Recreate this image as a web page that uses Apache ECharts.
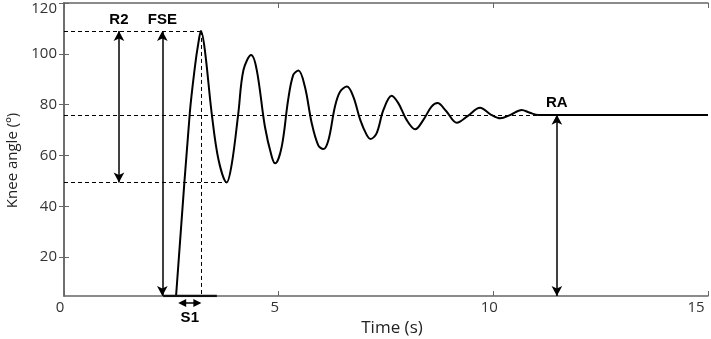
<!DOCTYPE html>
<html>
<head>
<meta charset="utf-8">
<script src="https://cdn.jsdelivr.net/npm/echarts@6/dist/echarts.min.js"></script>
<style>
  html, body { margin: 0; padding: 0; background: #fff; }
  #chart { width: 711px; height: 339px; }
</style>
</head>
<body>
<div id="chart"></div>
<script>
// knee angle trace (time s, angle deg)
const timeS = [2.61, 2.93, 3.05, 3.13, 3.19, 3.28, 3.44, 3.6, 3.79, 3.91, 4.06, 4.18, 4.36, 4.49, 4.68, 4.84, 4.92,
  5.07, 5.22, 5.34, 5.46, 5.61, 5.77, 5.92, 6.04, 6.16, 6.31, 6.43, 6.59, 6.74, 6.9, 7.05, 7.14, 7.28, 7.44, 7.63,
  7.79, 7.98, 8.18, 8.37, 8.56, 8.7, 8.9, 9.15, 9.4, 9.69, 9.95, 10.16, 10.4, 10.66, 10.85, 11.05, 15]
const kneeAngle = [4.7, 76.7, 95, 104.3, 109, 101.6, 76.6, 58.2, 49.4, 56.9, 76.6, 93.6, 99.5, 93.6, 71.3, 59.5, 56.9,
  63.4, 81.8, 91.7, 93.4, 87.1, 72.7, 64.1, 62.5, 66.1, 79.2, 85.1, 87.1, 83.1, 74, 68.1, 66.5, 68.7, 77.9, 83.5,
  80.5, 74, 70.3, 74, 79.2, 80.6, 77.5, 72.9, 75.5, 78.8, 76, 74.6, 76, 77.9, 76.8, 75.9, 75.9]
// flat part of the trace lying on the lower edge
const baseTime = [2.31, 3.56]

const yTicks = [20, 40, 60, 80, 100, 120]
const yMin = 4.7
const yMax = 120

// reference levels
const peakAngle = 109 // FSE
const troughAngle = 49.4 // R2 bottom
const restAngle = 76 // RA
const peakTime = 3.19
const troughTime = 3.79
const settleTime = 11.05
const fseTime = 2.29
const r2Time = 1.28
const raTime = 11.48
const s1Start = 2.66
const s1End = 3.2

const chart = echarts.init(document.getElementById('chart'))

const dashed = { color: '#000', width: 1, type: [4, 3] }
const arrowStyle = { color: '#000', width: 1.5, type: 'solid' }
const tagFont = { fontFamily: 'Liberation Sans', fontWeight: 'bold', fontSize: 15, fill: '#000' }
const labelFont = { fontFamily: 'Open Sans', fontSize: 15, color: '#333' }

const option = {
  animation: false,
  grid: { left: 64, right: 3, top: 3, bottom: 43, containLabel: false, outerBoundsMode: 'none' },
  xAxis: [
    {
      type: 'value',
      min: 0,
      max: 15,
      interval: 5,
      name: 'Time (s)',
      nameLocation: 'middle',
      nameGap: 17,
      nameTextStyle: { fontFamily: 'Open Sans', fontSize: 17, color: '#222', padding: [0, 0, 0, 12] },
      axisLine: { lineStyle: { color: '#666', width: 1.5 } },
      axisTick: { inside: true, length: 5, lineStyle: { color: '#666' } },
      axisLabel: Object.assign({
        margin: 4,
        hideOverlap: false,
        padding: [0, 8, 0, 0],
        formatter: (v) => (v === 15 ? '{r|15}' : String(v)),
        rich: { r: Object.assign({ padding: [0, 16, 0, 0] }, labelFont) }
      }, labelFont),
      splitLine: { show: false }
    },
    {
      type: 'value',
      position: 'top',
      min: 0,
      max: 15,
      interval: 5,
      axisLine: { show: true, lineStyle: { color: '#666', width: 1.5 } },
      axisTick: { show: true, inside: true, length: 5, lineStyle: { color: '#666' } },
      axisLabel: { show: false },
      splitLine: { show: false }
    }
  ],
  yAxis: [
    {
      type: 'value',
      min: yMin,
      max: yMax,
      name: 'Knee angle (º)',
      nameLocation: 'middle',
      nameGap: 44,
      nameTextStyle: { fontFamily: 'Open Sans', fontSize: 15, color: '#222', padding: [0, 22, 0, 0] },
      axisLine: { show: true, lineStyle: { color: '#666', width: 1.5 } },
      axisTick: { show: true, inside: true, length: 5, customValues: yTicks, lineStyle: { color: '#666' } },
      axisLabel: Object.assign({
        margin: 7,
        customValues: yTicks,
        formatter: (v) => (v === 120 ? '{t|120}' : String(v)),
        rich: { t: Object.assign({ padding: [12, 0, 0, 0] }, labelFont) }
      }, labelFont),
      splitLine: { show: false }
    },
    {
      type: 'value',
      position: 'right',
      min: yMin,
      max: yMax,
      axisLine: { show: true, lineStyle: { color: '#666', width: 1.5 } },
      axisTick: { show: true, inside: true, length: 5, customValues: yTicks, lineStyle: { color: '#666' } },
      axisLabel: { show: false },
      splitLine: { show: false }
    }
  ],
  series: [
    {
      type: 'line',
      name: 'knee',
      data: timeS.map((t, i) => [t, kneeAngle[i]]),
      smooth: 0.35,
      showSymbol: false,
      lineStyle: { color: '#000', width: 2 },
      z: 5
    },
    {
      type: 'line',
      name: 'base',
      data: baseTime.map((t) => [t, yMin]),
      showSymbol: false,
      lineStyle: { color: '#111', width: 2.5 },
      z: 6
    },
    {
      type: 'line',
      name: 'guides',
      data: [],
      silent: true,
      markLine: {
        silent: true,
        animation: false,
        label: { show: false },
        data: [
          [{ coord: [0, peakAngle], symbol: 'none', lineStyle: dashed }, { coord: [peakTime, peakAngle], symbol: 'none' }],
          [{ coord: [0, restAngle], symbol: 'none', lineStyle: dashed }, { coord: [settleTime, restAngle], symbol: 'none' }],
          [{ coord: [0, troughAngle], symbol: 'none', lineStyle: dashed }, { coord: [troughTime, troughAngle], symbol: 'none' }],
          [{ coord: [peakTime, peakAngle], symbol: 'none', lineStyle: dashed }, { coord: [peakTime, yMin], symbol: 'none' }],
          [{ coord: [fseTime, peakAngle], symbol: 'arrow', symbolSize: [8, 10], lineStyle: arrowStyle }, { coord: [fseTime, yMin], symbol: 'arrow', symbolSize: [8, 10] }],
          [{ coord: [r2Time, peakAngle], symbol: 'arrow', symbolSize: [8, 10], lineStyle: arrowStyle }, { coord: [r2Time, troughAngle], symbol: 'arrow', symbolSize: [8, 10] }],
          [{ coord: [raTime, restAngle], symbol: 'arrow', symbolSize: [8, 10], lineStyle: arrowStyle }, { coord: [raTime, yMin], symbol: 'arrow', symbolSize: [8, 10] }]
        ]
      }
    }
  ]
}

chart.setOption(option)

// text tags and the S1 arrow below the axis, placed from data coords
const px = (t, v) => chart.convertToPixel({ gridIndex: 0 }, [t, v])
const r2P = px(r2Time, 113.3)
const fseP = px(fseTime, 113.3)
const raP = px(raTime, 80.6)
const s1a = px(s1Start, yMin)
const s1b = px(s1End, yMin)
const s1y = s1a[1] + 7
chart.setOption({
  graphic: [
    { type: 'text', x: r2P[0], y: r2P[1], style: Object.assign({ text: 'R2', align: 'center', verticalAlign: 'middle' }, tagFont) },
    { type: 'text', x: fseP[0], y: fseP[1], style: Object.assign({ text: 'FSE', align: 'center', verticalAlign: 'middle' }, tagFont) },
    { type: 'text', x: raP[0], y: raP[1], style: Object.assign({ text: 'RA', align: 'center', verticalAlign: 'middle' }, tagFont) },
    { type: 'text', x: (s1a[0] + s1b[0]) / 2, y: s1y + 15, style: Object.assign({ text: 'S1', align: 'center', verticalAlign: 'middle' }, tagFont) },
    { type: 'line', shape: { x1: s1a[0] + 2, y1: s1y, x2: s1b[0] - 2, y2: s1y }, style: { stroke: '#000', lineWidth: 1.5 } },
    { type: 'polygon', shape: { points: [[s1a[0], s1y], [s1a[0] + 8, s1y - 4], [s1a[0] + 8, s1y + 4]] }, style: { fill: '#000' } },
    { type: 'polygon', shape: { points: [[s1b[0], s1y], [s1b[0] - 8, s1y - 4], [s1b[0] - 8, s1y + 4]] }, style: { fill: '#000' } }
  ]
})
</script>
</body>
</html>
